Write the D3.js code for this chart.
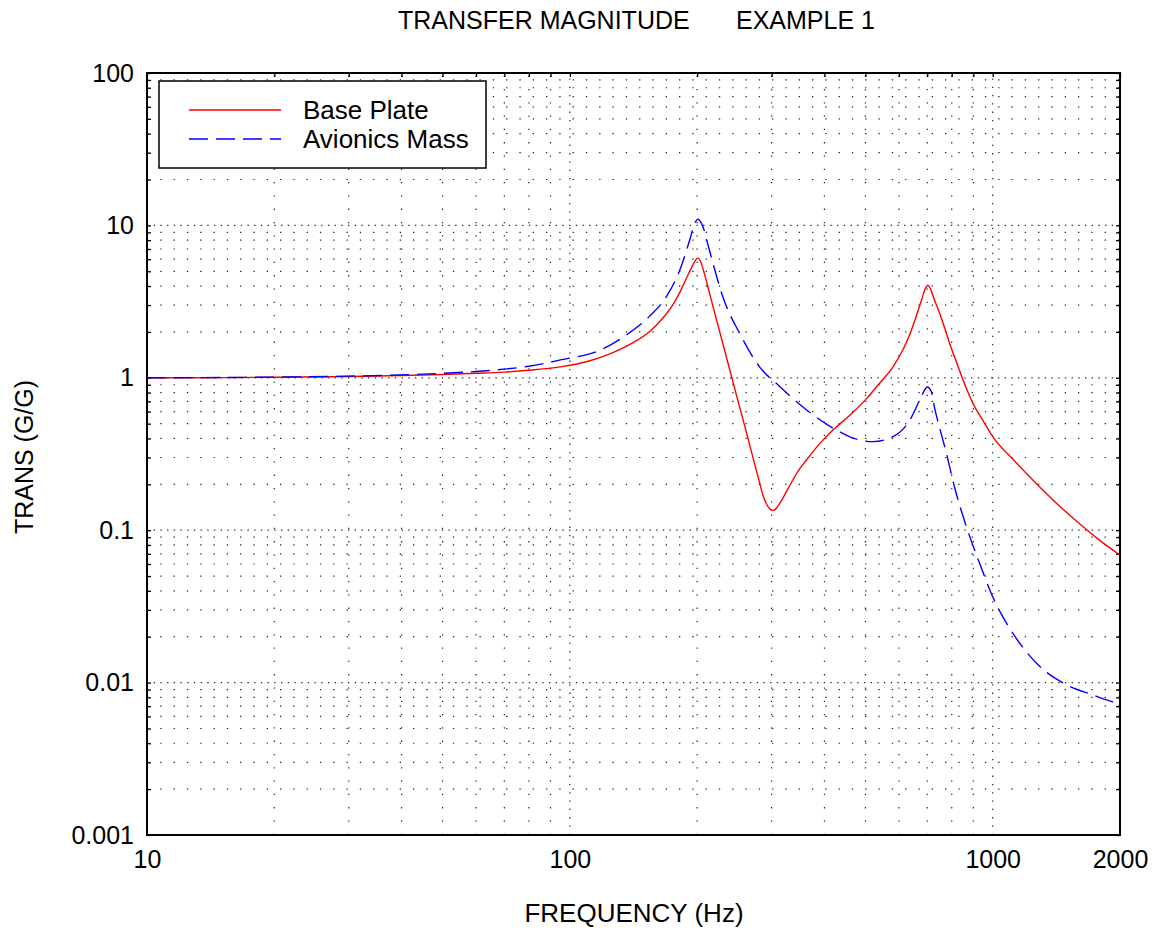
<!DOCTYPE html>
<html>
<head>
<meta charset="utf-8">
<script src="https://cdn.jsdelivr.net/npm/d3@7"></script>
<style>
  html, body { margin: 0; padding: 0; background: #fff; }
  svg { display: block; font-family: "Liberation Sans", Arial, Helvetica, sans-serif; }
</style>
</head>
<body>
<svg id="chart" width="1158" height="935"></svg>
<script>
// ---------------- data ----------------
const titleMain = "TRANSFER MAGNITUDE";
const titleSub = "EXAMPLE 1";
const xTitle = "FREQUENCY (Hz)";
const yTitle = "TRANS (G/G)";
const seriesNames = ["Base Plate", "Avionics Mass"];

const xTickValues = [10, 100, 1000, 2000];
const xTickLabels = ["10", "100", "1000", "2000"];
const yTickValues = [0.001, 0.01, 0.1, 1, 10, 100];
const yTickLabels = ["0.001", "0.01", "0.1", "1", "10", "100"];

const freqBase = [10, 15, 20, 30, 40, 50, 60, 70, 80, 95, 110, 124, 140, 155, 165, 175, 183, 189, 195, 199, 201, 204, 207, 214, 222, 230, 239, 250, 262, 272, 281, 286, 292, 297, 302, 307, 313, 320, 330, 345, 363, 390, 419, 460, 503, 540, 581, 615, 640, 660, 680, 693, 703, 712, 725, 749, 770, 791, 820, 847, 898, 950, 1000, 1122, 1259, 1413, 1585, 1778, 2000];
const basePlate = [1.0, 1.003, 1.008, 1.02, 1.035, 1.05, 1.07, 1.09, 1.12, 1.18, 1.28, 1.43, 1.68, 2.03, 2.42, 3.0, 3.75, 4.55, 5.45, 6.0, 6.1, 5.75, 5.07, 3.58, 2.43, 1.68, 1.12, 0.70, 0.43, 0.288, 0.205, 0.17, 0.148, 0.138, 0.135, 0.138, 0.149, 0.165, 0.193, 0.24, 0.29, 0.37, 0.454, 0.57, 0.73, 0.92, 1.18, 1.55, 2.0, 2.55, 3.3, 3.85, 4.05, 3.85, 3.35, 2.65, 2.12, 1.68, 1.28, 1.0, 0.68, 0.52, 0.411, 0.288, 0.2065, 0.151, 0.1135, 0.0871, 0.0687];

const freqAvionics = [10, 15, 20, 30, 40, 50, 60, 70, 80, 95, 118, 136, 154, 169, 182, 192, 198, 201, 204, 207, 212, 218, 230, 252, 281, 314, 363, 427, 470, 521, 581, 637, 672, 694, 700, 716, 730, 749, 777, 813, 867, 931, 1000, 1057, 1137, 1291, 1493, 1726, 2000];
const avionicsMass = [1.0, 1.004, 1.01, 1.025, 1.045, 1.07, 1.1, 1.14, 1.19, 1.31, 1.52, 1.91, 2.52, 3.4, 5.1, 8.0, 10.5, 11.0, 10.5, 9.57, 7.5, 5.64, 3.4, 1.96, 1.18, 0.875, 0.615, 0.454, 0.40, 0.381, 0.411, 0.528, 0.715, 0.85, 0.87, 0.81, 0.62, 0.47, 0.32, 0.19, 0.105, 0.0607, 0.0366, 0.027, 0.0195, 0.0128, 0.0097, 0.0083, 0.0072];

// ---------------- chart ----------------
const svg = d3.select("#chart");
const L = 147, R = 1120, T = 73, B = 835;

const x = d3.scaleLog().domain([10, 2000]).range([L, R]);
const y = d3.scaleLog().domain([0.001, 100]).range([B, T]);

// grid values
const xMajor = [10, 100, 1000];
const xMinor = [];
[10, 100, 1000].forEach(d => { for (let k = 2; k <= 9; k++) { if (k * d <= 2000) xMinor.push(k * d); } });
const yMajor = [0.001, 0.01, 0.1, 1, 10, 100];
const yMinor = [];
[0.001, 0.01, 0.1, 1, 10].forEach(d => { for (let k = 2; k <= 9; k++) yMinor.push(k * d); });

const grid = svg.append("g").attr("fill", "none").attr("stroke", "#222").attr("stroke-width", 1.2);
grid.selectAll("line.hmin").data(yMinor).join("line")
  .attr("x1", L).attr("x2", R).attr("y1", d => y(d)).attr("y2", d => y(d))
  .attr("stroke-dasharray", "1.3,12");
grid.selectAll("line.hmaj").data(yMajor.slice(1, -1)).join("line")
  .attr("x1", L).attr("x2", R).attr("y1", d => y(d)).attr("y2", d => y(d))
  .attr("stroke-dasharray", "1.3,5.4");
grid.selectAll("line.vmin").data(xMinor).join("line")
  .attr("y1", B).attr("y2", T).attr("x1", d => x(d)).attr("x2", d => x(d))
  .attr("stroke-dasharray", "1.3,12");
grid.selectAll("line.vmaj").data(xMajor.slice(1)).join("line")
  .attr("y1", B).attr("y2", T).attr("x1", d => x(d)).attr("x2", d => x(d))
  .attr("stroke-dasharray", "1.3,7");

// inner ticks (left, right, top)
const allY = yMinor.concat(yMajor);
const allX = xMinor.concat(xMajor);
const tickStyle = g => { g.select(".domain").remove(); g.selectAll("line").attr("stroke", "#000").attr("stroke-width", 1.3); };
svg.append("g").attr("transform", `translate(${L},0)`)
  .call(d3.axisLeft(y).tickValues(allY).tickSize(-4).tickFormat("")).call(tickStyle);
svg.append("g").attr("transform", `translate(${R},0)`)
  .call(d3.axisRight(y).tickValues(allY).tickSize(-4).tickFormat("")).call(tickStyle);
svg.append("g").attr("transform", `translate(0,${T})`)
  .call(d3.axisTop(x).tickValues(allX).tickSize(-4).tickFormat("")).call(tickStyle);

// curves
const line = (fs, vs) => d3.line().curve(d3.curveMonotoneX)
  .x((d, i) => x(fs[i])).y((d, i) => y(vs[i]))(vs);

svg.append("path").attr("d", line(freqBase, basePlate))
  .attr("fill", "none").attr("stroke", "#ff0000").attr("stroke-width", 1.4);
svg.append("path").attr("d", line(freqAvionics, avionicsMass))
  .attr("fill", "none").attr("stroke", "#0000ff").attr("stroke-width", 1.4)
  .attr("stroke-dasharray", "19,8");

// frame
svg.append("rect").attr("x", L).attr("y", T).attr("width", R - L).attr("height", B - T)
  .attr("fill", "none").attr("stroke", "#000").attr("stroke-width", 2);

// tick labels
const fontSize = 25;
const xAxis = svg.append("g").attr("transform", `translate(0,${B})`)
  .call(d3.axisBottom(x).tickValues(xTickValues).tickSize(0).tickPadding(15)
    .tickFormat((d, i) => xTickLabels[i]));
xAxis.select(".domain").remove();
xAxis.selectAll("text").attr("font-size", fontSize).attr("fill", "#000").attr("font-family", null);

const yAxis = svg.append("g").attr("transform", `translate(${L},0)`)
  .call(d3.axisLeft(y).tickValues(yTickValues).tickSize(0).tickPadding(13)
    .tickFormat((d, i) => yTickLabels[i]));
yAxis.select(".domain").remove();
yAxis.selectAll("text").attr("font-size", fontSize).attr("fill", "#000").attr("font-family", null);

// titles
const title = svg.append("text").attr("y", 29).attr("font-size", 25).attr("fill", "#000");
title.append("tspan").attr("x", 398).text(titleMain);
title.append("tspan").attr("x", 736).text(titleSub);

svg.append("text").attr("x", 634).attr("y", 922).attr("text-anchor", "middle")
  .attr("font-size", 26).attr("fill", "#000").text(xTitle);

svg.append("text").attr("transform", "translate(33,457) rotate(-90)").attr("text-anchor", "middle")
  .attr("font-size", fontSize).attr("fill", "#000").text(yTitle);

// legend
const lg = svg.append("g");
lg.append("rect").attr("x", 159).attr("y", 81).attr("width", 327).attr("height", 87)
  .attr("fill", "#fff").attr("stroke", "#000").attr("stroke-width", 1.5);
const legendRows = [
  { name: seriesNames[0], color: "#ff0000", dash: null, yy: 110 },
  { name: seriesNames[1], color: "#0000ff", dash: "19,8", yy: 139 }
];
legendRows.forEach(r => {
  lg.append("line").attr("x1", 189).attr("x2", 281).attr("y1", r.yy).attr("y2", r.yy)
    .attr("stroke", r.color).attr("stroke-width", 1.4).attr("stroke-dasharray", r.dash);
  lg.append("text").attr("x", 303).attr("y", r.yy + 9).attr("font-size", 26)
    .attr("fill", "#000").text(r.name);
});
</script>
</body>
</html>
